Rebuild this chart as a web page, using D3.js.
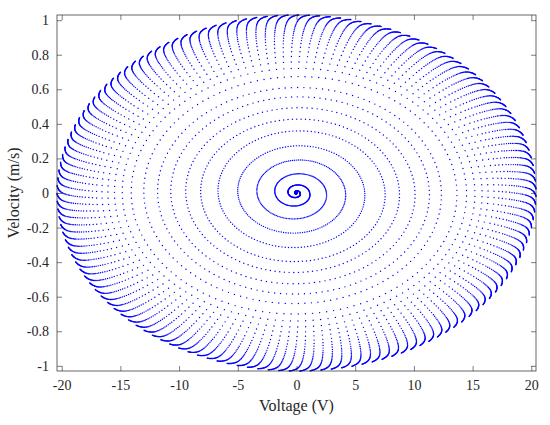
<!DOCTYPE html>
<html>
<head>
<meta charset="utf-8">
<script src="https://cdn.jsdelivr.net/npm/d3@7"></script>
<style>
  html, body { margin: 0; padding: 0; background: #fff; }
  svg { display: block; }
  text { font-family: "Liberation Serif", "Times New Roman", serif; fill: #262626; }
</style>
</head>
<body>
<svg id="chart" width="550" height="425"></svg>
<script>
// ---------------- data ----------------
const xTickValues = [-20, -15, -10, -5, 0, 5, 10, 15, 20];
const xTickLabels = ["-20", "-15", "-10", "-5", "0", "5", "10", "15", "20"];
const yTickValues = [-1, -0.8, -0.6, -0.4, -0.2, 0, 0.2, 0.4, 0.6, 0.8, 1];
const yTickLabels = ["-1", "-0.8", "-0.6", "-0.4", "-0.2", "0", "0.2", "0.4", "0.6", "0.8", "1"];
const xDomain = [-20.4, 20.4];
const yDomain = [-1.03, 1.03];
const xLabel = "Voltage (V)";
const yLabel = "Velocity (m/s)";

// limit-cycle amplitudes (voltage, velocity)
const limitVoltage = 20.4;
const limitVelocity = 1.03;
// amplitude of each successive turn, as fraction of the limit (read at V-axis crossings)
const turnAmplitude = [
  0, 0.015, 0.055, 0.125, 0.205, 0.285, 0.37, 0.43, 0.495, 0.555,
  0.605, 0.67, 0.71, 0.745, 0.775, 0.80, 0.825, 0.845, 0.86, 0.875,
  0.89, 0.90, 0.91, 0.92, 0.929, 0.937, 0.944, 0.95, 0.956, 0.961,
  0.965, 0.969, 0.973, 0.976, 0.979, 0.981, 0.983, 0.985, 0.987, 0.988,
  0.99, 0.991, 0.992, 0.993, 0.994, 0.995, 0.996, 0.997, 0.997, 0.998,
  0.998, 0.999, 0.999, 1.0, 1.0, 1.0
];
// number of recorded samples per oscillation turn
const samplesPerTurn = 142.955;

// ---------------- layout ----------------
const margin = { left: 57, right: 14, top: 15, bottom: 54 };
const W = 550, H = 425;
const svg = d3.select("#chart");

const x = d3.scaleLinear().domain(xDomain).range([margin.left, W - margin.right]);
const y = d3.scaleLinear().domain(yDomain).range([H - margin.bottom, margin.top]);

// ---------------- trajectory samples ----------------
const nTurns = turnAmplitude.length - 1;
const totalSamples = Math.floor(nTurns * samplesPerTurn);
const pts = [];
for (let j = 0; j <= totalSamples; j++) {
  const turns = j / samplesPerTurn;
  const k = Math.min(Math.floor(turns), nTurns - 1);
  const f = turns - k;
  const a = turnAmplitude[k] + (turnAmplitude[k + 1] - turnAmplitude[k]) * Math.min(f, 1);
  const phi = 2 * Math.PI * turns;
  pts.push([a * limitVoltage * Math.cos(phi), -a * limitVelocity * Math.sin(phi)]);
}

svg.append("g")
  .selectAll("circle")
  .data(pts)
  .join("circle")
  .attr("cx", d => x(d[0]))
  .attr("cy", d => y(d[1]))
  .attr("r", 0.7)
  .attr("fill", "#0000ff");

// ---------------- axes ----------------
const axisColor = "#262626";
function styleAxis(g) {
  g.select(".domain").remove();
  g.selectAll(".tick line").attr("stroke", axisColor).attr("stroke-width", 0.6);
  g.selectAll(".tick text").attr("font-size", 14).attr("fill", axisColor)
    .style("font-family", '"Liberation Serif", "Times New Roman", serif');
}

svg.append("g")
  .attr("transform", `translate(0,${H - margin.bottom})`)
  .call(d3.axisBottom(x).tickValues(xTickValues)
    .tickFormat((d, i) => xTickLabels[i]).tickSize(-5).tickPadding(9))
  .call(styleAxis);

svg.append("g")
  .attr("transform", `translate(0,${margin.top})`)
  .call(d3.axisTop(x).tickValues(xTickValues).tickFormat("").tickSize(-5))
  .call(styleAxis);

svg.append("g")
  .attr("transform", `translate(${margin.left},0)`)
  .call(d3.axisLeft(y).tickValues(yTickValues)
    .tickFormat((d, i) => yTickLabels[i]).tickSize(-5).tickPadding(8))
  .call(styleAxis);

svg.append("g")
  .attr("transform", `translate(${W - margin.right},0)`)
  .call(d3.axisRight(y).tickValues(yTickValues).tickFormat("").tickSize(-5))
  .call(styleAxis);

// box
svg.append("rect")
  .attr("x", margin.left).attr("y", margin.top)
  .attr("width", W - margin.left - margin.right)
  .attr("height", H - margin.top - margin.bottom)
  .attr("fill", "none").attr("stroke", axisColor).attr("stroke-width", 0.7);

// axis labels
svg.append("text")
  .attr("x", (margin.left + W - margin.right) / 2)
  .attr("y", 411)
  .attr("text-anchor", "middle")
  .attr("font-size", 16)
  .text(xLabel);

svg.append("text")
  .attr("transform", `translate(19,${(margin.top + H - margin.bottom) / 2}) rotate(-90)`)
  .attr("text-anchor", "middle")
  .attr("font-size", 16)
  .text(yLabel);
</script>
</body>
</html>
